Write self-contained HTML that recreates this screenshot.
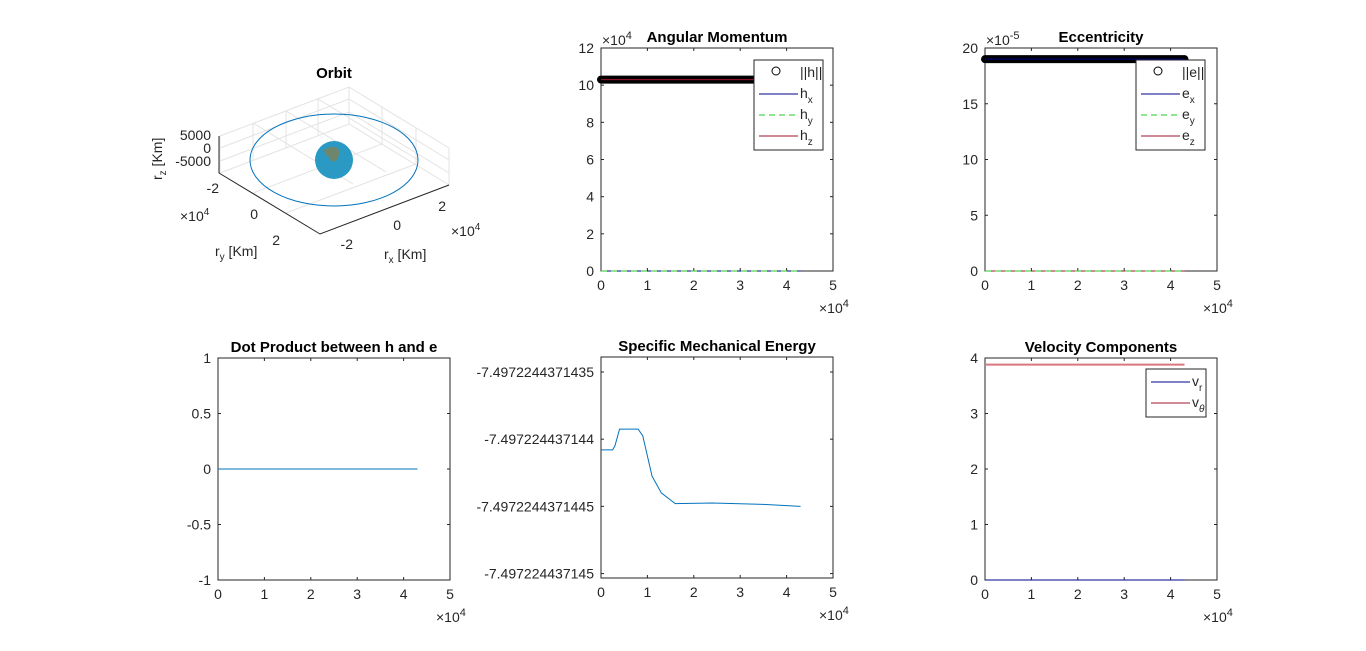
<!DOCTYPE html>
<html><head><meta charset="utf-8"><style>
body{margin:0;background:#fff;}
svg{display:block;font-family:"Liberation Sans",Arial,sans-serif;}
.t{font-weight:bold;font-size:15px;fill:#000;}
.tk{font-size:14px;fill:#262626;}
</style></head><body>
<svg id="fig" width="1366" height="651" viewBox="0 0 1366 651">
<rect width="1366" height="651" fill="#fff"/>
<!-- Orbit 3D -->
<g>
<text class="t" x="334" y="78" text-anchor="middle">Orbit</text>
<g stroke="#e3e3e3" stroke-width="1" fill="none">
<polyline points="220,136 349,87 449,148"/>
<line x1="349" y1="87" x2="349" y2="124"/>
<line x1="220" y1="136" x2="220" y2="173"/>
<line x1="449" y1="148" x2="449" y2="185"/>
<line x1="253" y1="123" x2="253" y2="160"/><line x1="286" y1="111" x2="286" y2="148"/><line x1="318" y1="99" x2="318" y2="136"/>
<line x1="382" y1="107" x2="382" y2="144"/><line x1="416" y1="128" x2="416" y2="165"/>
<polyline points="220,148 349,99 449,160"/><polyline points="220,161 349,112 449,173"/>
<polyline points="220,173 349,124 449,185"/>
<line x1="253" y1="193" x2="382" y2="144"/><line x1="286" y1="213" x2="416" y2="164"/>
<line x1="253" y1="123" x2="353" y2="184"/><line x1="286" y1="111" x2="386" y2="172"/><line x1="318" y1="99" x2="418" y2="160"/>
</g>
<polyline points="219,136 219,173 320,234 449,185" fill="none" stroke="#262626" stroke-width="1"/>
<ellipse cx="334" cy="160" rx="84" ry="46" fill="none" stroke="#0072bd" stroke-width="1"/>
<circle cx="334" cy="160" r="19" fill="#2a9ac4"/>
<path d="M324,150 q7,-5 14,-2 q3,7 -2,13 q-5,2 -7,-4 q-5,-2 -5,-7z" fill="#8a7d4a" opacity="0.7"/>
<g class="tk" text-anchor="end">
<text x="211" y="140">5000</text><text x="211" y="153">0</text><text x="211" y="166">-5000</text>
<text x="219" y="193">-2</text><text x="258" y="219">0</text><text x="280" y="245">2</text>
<text x="353" y="249">-2</text><text x="401" y="230">0</text><text x="446" y="211">2</text>
</g>
<text class="tk" x="180" y="221">×10<tspan dy="-6" font-size="10">4</tspan></text>
<text class="tk" x="451" y="236">×10<tspan dy="-6" font-size="10">4</tspan></text>
<text class="tk" x="215" y="256">r<tspan dy="4" font-size="10">y</tspan><tspan dy="-4"> [Km]</tspan></text>
<text class="tk" x="384" y="259">r<tspan dy="4" font-size="10">x</tspan><tspan dy="-4"> [Km]</tspan></text>
<text class="tk" transform="translate(162,180) rotate(-90)">r<tspan dy="4" font-size="10">z</tspan><tspan dy="-4"> [Km]</tspan></text>
</g>
<g id="plots"></g>
</svg>
<script>
// Time axis (x10^4)
const tVals=[0,0.25,0.3,0.4,0.8,0.9,1.0,1.1,1.3,1.6,2.4,3.5,4.3];
// energy, in units of tick step below -7.4972244371435 (0=top tick)
const energyVals=[1.16,1.16,1.1,0.85,0.85,0.95,1.25,1.55,1.8,1.96,1.95,1.97,2.0];
const energyTicks=["-7.4972244371435","-7.497224437144","-7.4972244371445","-7.497224437145"];
const hNorm=10.3, hx=0, hy=0, hz=10.3;       // x10^4
const eNorm=19, ex=19, ey=0, ez=0;            // x10^-5
const vr=0, vth=3.88;
const dotVal=0;
const tEnd=4.3;
const xTicks=[0,1,2,3,4,5];

const NS="http://www.w3.org/2000/svg";
const root=document.getElementById('plots');
function el(tag,attrs,parent,text){const e=document.createElementNS(NS,tag);for(const k in attrs)e.setAttribute(k,attrs[k]);if(text!==undefined)e.textContent=text;(parent||root).appendChild(e);return e;}

function axes(name,x0,y0,w,h,ymin,ymax,yticks,ylabels,title,exp){
  const g=el('g',{});
  
  
  const X=v=>x0+(v-0)/5*w, Y=v=>y0+h-(v-ymin)/(ymax-ymin)*h;
  el('rect',{x:x0,y:y0,width:w,height:h,fill:'#fff',stroke:'#262626','stroke-width':1},g);
  xTicks.forEach(v=>{el('line',{x1:X(v),x2:X(v),y1:y0+h,y2:y0+h-3,stroke:'#262626'},g);el('line',{x1:X(v),x2:X(v),y1:y0,y2:y0+3,stroke:'#262626'},g);
    el('text',{x:X(v),y:y0+h+19,'text-anchor':'middle',class:'tk'},g,String(v));});
  yticks.forEach((v,i)=>{el('line',{x1:x0,x2:x0+3,y1:Y(v),y2:Y(v),stroke:'#262626'},g);el('line',{x1:x0+w,x2:x0+w-3,y1:Y(v),y2:Y(v),stroke:'#262626'},g);
    el('text',{x:x0-7,y:Y(v)+5,'text-anchor':'end',class:'tk'},g,ylabels[i]);});
  const tt=el('text',{x:x0+w/2,y:y0-6,'text-anchor':'middle',class:'t'},g,title);
  
  
  if(exp){const e=el('text',{x:x0+1,y:y0-3,class:'tk'},g,'×10');el('tspan',{dy:-6,'font-size':11},e,exp);}
  const xe=el('text',{x:x0+w-14,y:y0+h+42,class:'tk'},g,'×10');el('tspan',{dy:-6,'font-size':11},xe,'4');
  return {g,X,Y};
}
function hline(a,v,color,w,dash,name,cap){
  const l=el('line',{x1:a.X(0),x2:a.X(tEnd),y1:a.Y(v),y2:a.Y(v),stroke:color,'stroke-width':w},a.g);
  if(dash)l.setAttribute('stroke-dasharray',dash);
  if(cap)l.setAttribute('stroke-linecap','round');
  
  
}
function legend(a,x,y,w,items){
  const lg=el('g',{},a.g);
  
  
  el('rect',{x:x,y:y,width:w,height:items.length*21+6,fill:'#fff',stroke:'#262626'},lg);
  items.forEach((it,i)=>{const cy=y+13+i*21;
    if(it.marker)el('circle',{cx:x+22,cy:cy-2,r:4,fill:'none',stroke:'#000'},lg);
    else{const l=el('line',{x1:x+5,x2:x+44,y1:cy,y2:cy,stroke:it.color},lg);if(it.dash)l.setAttribute('stroke-dasharray','6,4');}
    const t=el('text',{x:x+46,y:cy+4,class:'tk','font-size':13},lg,it.label);
    if(it.sub){el('tspan',{dy:5,'font-size':10,'font-style':it.it?'italic':'normal'},t,it.sub);}
  });
}
// Angular momentum
let a=axes('angular-momentum-plot',601,48,232,223,0,12,[0,2,4,6,8,10,12],['0','2','4','6','8','10','12'],'Angular Momentum','4');
hline(a,hNorm,'#000',8,null,'h-norm-line',1);
hline(a,hz,'#a2142f',1,null,'hz-line');
hline(a,hx,'#00008b',1,null,'hx-line');
hline(a,hy,'#22cc22',1,'6,4','hy-line');
legend(a,754,60,69,[{marker:1,label:'||h||'},{color:'#00008b',label:'h',sub:'x'},{color:'#22cc22',dash:1,label:'h',sub:'y'},{color:'#a2142f',label:'h',sub:'z'}]);
// Eccentricity
a=axes('eccentricity-plot',985,48,232,223,0,20,[0,5,10,15,20],['0','5','10','15','20'],'Eccentricity','-5');
hline(a,eNorm,'#000',8,null,'e-norm-line',1);
hline(a,ex,'#00008b',1,null,'ex-line');
hline(a,ez,'#a2142f',1,null,'ez-line');
hline(a,ey,'#22cc22',1,'6,4','ey-line');
legend(a,1136,60,69,[{marker:1,label:'||e||'},{color:'#00008b',label:'e',sub:'x'},{color:'#22cc22',dash:1,label:'e',sub:'y'},{color:'#a2142f',label:'e',sub:'z'}]);
// Dot product
a=axes('dot-product-plot',218,358,232,222,-1,1,[-1,-0.5,0,0.5,1],['-1','-0.5','0','0.5','1'],'Dot Product between h and e');
hline(a,dotVal,'#0072bd',1,null,'dot-product-line');
// Energy
a=axes('energy-plot',601,357,232,221,-3.066,0.223,[0,-1,-2,-3],energyTicks,'Specific Mechanical Energy');
{const pts=tVals.map((t,i)=>a.X(t)+','+a.Y(-energyVals[i])).join(' ');
 const p=el('polyline',{points:pts,fill:'none',stroke:'#0072bd','stroke-width':1},a.g);
 
 }
// Velocity
a=axes('velocity-plot',985,358,232,222,0,4,[0,1,2,3,4],['0','1','2','3','4'],'Velocity Components');
hline(a,vth,'#d9767f',2,null,'v-theta-line');
hline(a,vr,'#00008b',1,null,'vr-line');
legend(a,1146,369,60,[{color:'#00008b',label:'v',sub:'r'},{color:'#a2142f',label:'v',sub:'θ',it:1}]);
</script>
</body></html>
